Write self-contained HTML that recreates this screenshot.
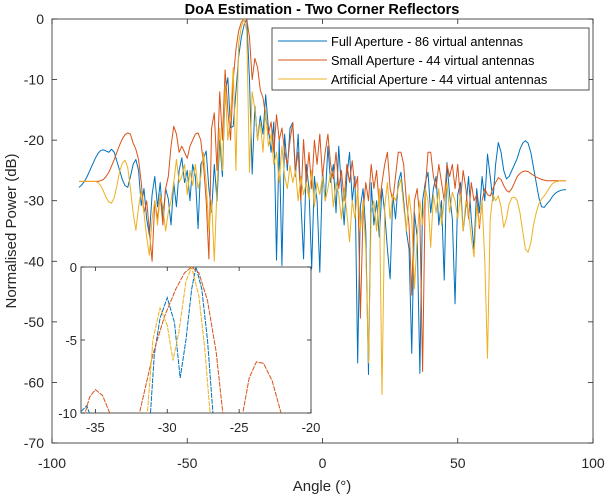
<!DOCTYPE html>
<html><head><meta charset="utf-8"><style>
html,body{margin:0;padding:0;background:#fff;}
svg{display:block;font-family:"Liberation Sans",Arial,sans-serif;}
</style></head><body>
<svg id="chart" width="606" height="496" viewBox="0 0 606 496" xmlns="http://www.w3.org/2000/svg">
<defs>
<clipPath id="mainClip"><rect x="52" y="19" width="541" height="424"/></clipPath>
<clipPath id="insetClip"><rect x="81" y="267" width="230" height="146"/></clipPath>
</defs>
<rect x="0" y="0" width="606" height="496" fill="#fff"/>
<g id="main"></g>
<g id="inset"></g>
<text x="322" y="14" text-anchor="middle" font-weight="bold" font-size="14.5">DoA Estimation - Two Corner Reflectors</text>
<text x="322" y="491" text-anchor="middle" font-size="15" fill="#262626">Angle (°)</text>
<text transform="translate(16,231) rotate(-90)" text-anchor="middle" font-size="15" fill="#262626">Normalised Power (dB)</text>
<g>
<rect x="272" y="28" width="317" height="62" fill="#fff" stroke="#262626" stroke-width="0.8"/>
<line x1="278" y1="41" x2="327" y2="41" stroke="#0072BD" stroke-width="1"/>
<text x="331" y="46" font-size="12.8" fill="#000">Full Aperture - 86 virtual antennas</text>
<line x1="278" y1="60" x2="327" y2="60" stroke="#D95319" stroke-width="1"/>
<text x="331" y="65" font-size="12.8" fill="#000">Small Aperture - 44 virtual antennas</text>
<line x1="278" y1="79" x2="327" y2="79" stroke="#EDB120" stroke-width="1"/>
<text x="331" y="84" font-size="12.8" fill="#000">Artificial Aperture - 44 virtual antennas</text>
</g>
</svg>
<script>
const xTicks=[-100,-50,0,50,100];
const yTicks=[0,-10,-20,-30,-40,-50,-60,-70];
const insetXTicks=[-35,-30,-25,-20];
const insetYTicks=[0,-5,-10];
const angleStart=-90;
const angleStep=1;

const fullVal=[
-27.8,-27.4,-26.8,-26,-25,-24,-23,-22.2,-21.7,-21.6,
-21.8,-22,-21.5,-22,-23.5,-25,-26.5,-27.5,-27.8,-26,
-24,-23.2,-25,-30.8,-28,-33,-35.7,-29,-26,-31,
-27,-33,-28,-29.7,-34,-27,-31,-25,-22.9,-27,
-25,-30,-24,-26,-34.6,-24,-23,-21.8,-28,-31.9,
-24,-30,-20,-26,-12,-9.7,-18,-17.7,-12,-6.2,
-3,-1,0,-10,-25.6,-14.4,-20,-16,-19,-12.5,
-18,-22,-17,-39.8,-20,-40.7,-19,-25,-18,-17.1,
-26,-19,-30,-39.6,-24,-28,-41.2,-26,-30,-41.8,
-25,-30,-21,-27,-24,-32,-21,-28,-34,-26,
-22,-30,-26,-56.8,-31,-28,-35,-58.7,-27,-34,
-30,-36,-28,-32,-38,-42.9,-29,-33,-27,-25.3,
-30,-35,-38,-55.2,-32,-36,-58.5,-30,-27,-25.3,
-32,-28,-26,-34,-30,-43.1,-23.7,-29,-33,-47,
-29,-27,-35,-31,-26,-33,-38,-28,-32,-26,
-30,-22.3,-26,-30,-24,-20.4,-22,-25,-26.4,-26,
-25,-24,-23,-21.5,-20.5,-20.1,-20.5,-22,-24.5,-27,
-29.5,-31,-31.1,-30.5,-30,-29.3,-28.8,-28.5,-28.3,-28.2,
-28.2];

const smallVal=[
-26.8,-26.8,-26.8,-26.8,-26.8,-26.8,-26.8,-26.8,-26.7,-26.5,
-26,-25.3,-24.3,-23.2,-22,-20.8,-19.8,-19.1,-18.8,-19,
-20.5,-21.5,-23.2,-27,-32,-30,-35,-40,-30,-33,
-29,-34,-28,-26,-21,-17.7,-19,-22,-21,-22,
-23,-21,-20,-19,-18.8,-20,-24,-30,-39.6,-18,
-15.5,-25,-12,-20,-8.4,-15,-20,-10,-5,-2,
-0.5,0,0,-3,-10,-6.5,-8,-11.7,-13,-16,
-19,-17,-22,-15.8,-20,-18,-22,-24,-20,-17.1,
-25,-22,-30,-19.9,-27,-22,-28,-20,-24,-19,
-26,-22,-19,-24,-26.4,-22,-28,-25,-30,-24,
-27,-23.4,-28,-26,-49.4,-32,-27,-30,-24,-28,
-25,-31,-27,-24,-22,-28,-30,-26,-22,-22,
-24,-30,-34,-45.6,-30,-28,-33,-58.2,-28,-22,
-22,-26,-28,-24,-27,-30,-24,-26,-24,-28,
-24,-30,-25,-28,-33,-27,-30,-29,-34.6,-30,
-28,-29,-29.2,-28,-27,-26.2,-26.5,-27.5,-28.3,-28.6,
-28,-27,-26,-25.5,-25.2,-25.1,-25.2,-25.5,-25.8,-26.1,
-26.3,-26.5,-26.6,-26.7,-26.7,-26.7,-26.7,-26.7,-26.7,-26.7,
-26.7];

const artVal=[
-26.8,-26.8,-26.8,-26.8,-26.8,-26.8,-26.8,-27,-27.5,-28.4,
-29.5,-30.2,-30.4,-29.5,-27.5,-25.2,-23.8,-23.3,-24.5,-28,
-32,-34.9,-31,-28.4,-32,-36,-39,-33,-30,-34,
-29,-31,-35,-31.9,-30,-27,-23.2,-27,-26,-24,
-29,-25,-27.5,-24,-28,-26,-22,-27,-35,-30,
-40,-28,-18,-25,-11,-20,-16,-8,-25,-4,
-1.3,0,-2,-25.3,-12,-15,-20,-17,-22,-15,
-21,-19,-24,-22,-27,-21,-26,-28,-24.2,-27,
-25,-30,-26,-29,-27,-29.7,-25,-31,-27,-29,
-26,-30,-28,-25.3,-31,-27,-29,-33,-28,-32,
-36.8,-30,-33,-28,-35,-30,-38,-56.8,-32,-30,
-35,-28,-62,-31,-27,-33,-29,-30,-28,-26.4,
-31,-35,-29,-33,-44.5,-36,-30,-34,-28,-30,
-37.7,-29,-32,-28,-34,-30,-27,-32,-28.6,-30,
-33,-29,-35,-30,-32,-36,-39.3,-31,-34,-30,
-40,-56,-33,-29,-30,-29.2,-31,-34.4,-33,-30.5,
-29.5,-29.4,-30,-32,-35,-38,-38.5,-37,-34,-32,
-30.5,-29.7,-29.2,-28.5,-27.8,-27.2,-26.9,-26.8,-26.7,-26.7,
-26.7];

const insetFullAng=[-36,-35.6,-35.2,-31.2,-30.9,-30.5,-30,-29.5,-29.1,-28.7,-28.3,-28,-27.6,-27.2,-26.8];
const insetFullVal=[-9.9,-9.5,-10.6,-10.5,-6,-3.5,-2.1,-3.8,-7.6,-5,-1.5,0,-1.5,-5,-10.3];
const insetArtAng=[-31.4,-31,-30.5,-30,-29.6,-29.2,-28.7,-28.3,-27.8,-27.4,-27];
const insetArtVal=[-10.3,-5,-2.8,-4,-6.4,-4.5,-1,0,-2,-5.5,-10.3];
const insetSmallAng=[-35.8,-35.4,-35,-34.5,-34,-33.8];
const insetSmallVal=[-10.3,-8.9,-8.4,-8.8,-10,-10.3];
const insetSmall2Ang=[-32,-31,-30.2,-29.4,-28.8,-28.3,-27.8,-27.2,-26.6,-26.1];
const insetSmall2Val=[-10.3,-6,-3.4,-1.5,-0.4,0,-0.4,-2.3,-5.8,-10.3];
const insetSmall3Ang=[-24.8,-24.3,-23.8,-23.3,-22.7,-22];
const insetSmall3Val=[-10.3,-7.6,-6.5,-6.6,-7.8,-10.3];

const NS='http://www.w3.org/2000/svg';
const xMain=a=>52+(a+100)*(541/200);
const yMain=v=>19+(-v)*(424/70);
const xIn=a=>81+(a+36)*(230/16);
const yIn=v=>267+(-v)*(146/10);

function mk(tag,attrs,parent){const e=document.createElementNS(NS,tag);for(const k in attrs)e.setAttribute(k,attrs[k]);parent.appendChild(e);return e;}
function pathD(xs,ys,fx,fy){return ys.map((v,i)=>(i?'L':'M')+fx(xs[i]).toFixed(2)+','+fy(v).toFixed(2)).join('');}
function angles(vals){return vals.map((v,i)=>angleStart+i*angleStep);}

const main=document.getElementById('main');
const box=mk('rect',{x:52,y:19,width:541,height:424,fill:'#fff',stroke:'#262626','stroke-width':0.8},main);


xTicks.forEach(t=>{
  const x=xMain(t);
  mk('line',{x1:x,y1:443,x2:x,y2:438,stroke:'#262626','stroke-width':0.8},main);
  mk('line',{x1:x,y1:19,x2:x,y2:24,stroke:'#262626','stroke-width':0.8},main);
  const tx=mk('text',{x:x,y:468,'text-anchor':'middle','font-size':'14',fill:'#262626'},main);
  tx.textContent=t;
  
  
});
yTicks.forEach(t=>{
  const y=yMain(t);
  mk('line',{x1:52,y1:y,x2:57,y2:y,stroke:'#262626','stroke-width':0.8},main);
  mk('line',{x1:593,y1:y,x2:588,y2:y,stroke:'#262626','stroke-width':0.8},main);
  const tx=mk('text',{x:44,y:y+5,'text-anchor':'end','font-size':'14',fill:'#262626'},main);
  tx.textContent=t;
  
  
});
const series=[[fullVal,'#0072BD','series-full-aperture'],[smallVal,'#D95319','series-small-aperture'],[artVal,'#EDB120','series-artificial-aperture']];
series.forEach(s=>{
  const p=mk('path',{d:pathD(angles(s[0]),s[0],xMain,yMain),fill:'none',stroke:s[1],'stroke-width':1,'stroke-linejoin':'round','clip-path':'url(#mainClip)'},main);
  
  
});

const inset=document.getElementById('inset');
const ib=mk('rect',{x:81,y:267,width:230,height:146,fill:'#fff',stroke:'#262626','stroke-width':0.8},inset);


insetXTicks.forEach(t=>{
  const x=xIn(t);
  mk('line',{x1:x,y1:413,x2:x,y2:409,stroke:'#262626','stroke-width':0.8},inset);
  mk('line',{x1:x,y1:267,x2:x,y2:271,stroke:'#262626','stroke-width':0.8},inset);
  const tx=mk('text',{x:x,y:432,'text-anchor':'middle','font-size':'13',fill:'#262626'},inset);
  tx.textContent=t;
  
  
});
insetYTicks.forEach(t=>{
  const y=yIn(t);
  mk('line',{x1:81,y1:y,x2:85,y2:y,stroke:'#262626','stroke-width':0.8},inset);
  mk('line',{x1:311,y1:y,x2:307,y2:y,stroke:'#262626','stroke-width':0.8},inset);
  const tx=mk('text',{x:77,y:y+5,'text-anchor':'end','font-size':'13',fill:'#262626'},inset);
  tx.textContent=t;
  
  
});
const iser=[[insetFullAng,insetFullVal,'#0072BD','inset-full'],[insetSmallAng,insetSmallVal,'#D95319','inset-small-lobe-1'],[insetSmall2Ang,insetSmall2Val,'#D95319','inset-small-main-lobe'],[insetSmall3Ang,insetSmall3Val,'#D95319','inset-small-lobe-2'],[insetArtAng,insetArtVal,'#EDB120','inset-artificial']];
iser.forEach(s=>{
  const p=mk('path',{d:pathD(s[0],s[1],xIn,yIn),fill:'none',stroke:s[2],'stroke-width':1,'stroke-dasharray':'5,1','clip-path':'url(#insetClip)'},inset);
  
  
});
</script>
</body></html>
